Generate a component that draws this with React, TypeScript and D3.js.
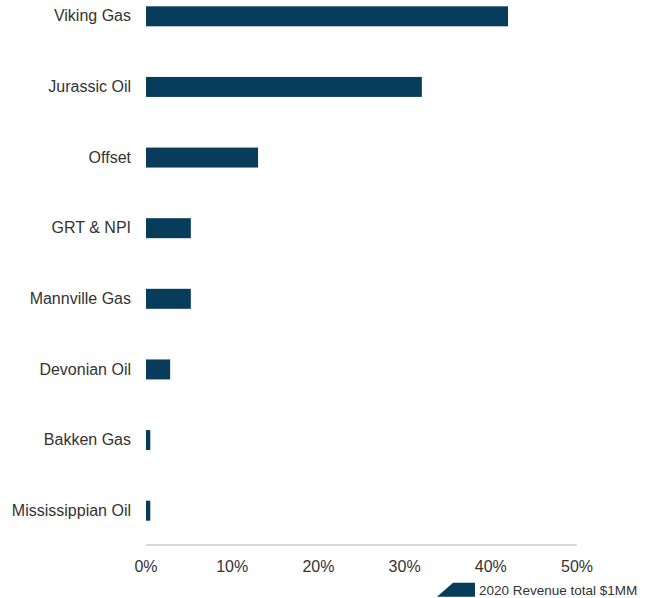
import React from "react";
import * as d3 from "d3";

const categories = [
  "Viking Gas",
  "Jurassic Oil",
  "Offset",
  "GRT & NPI",
  "Mannville Gas",
  "Devonian Oil",
  "Bakken Gas",
  "Mississippian Oil",
];
const values = [42, 32, 13, 5.2, 5.2, 2.8, 0.5, 0.5];
const xTicks = [0, 10, 20, 30, 40, 50];
const seriesName = "2020 Revenue total $1MM";

const W = 648;
const H = 598;
const BAR = "#073d5a";
const FONT = "'Liberation Sans', Arial, sans-serif";

export default function App() {
  const x = d3.scaleLinear().domain([0, 50]).range([146, 577]);
  const y = d3
    .scaleBand<string>()
    .domain(categories)
    .range([-19, 546])
    .paddingInner(0.717)
    .paddingOuter(0.3585);
  const axisY = 545;
  const bw = y.bandwidth();

  return (
    <svg
      width={W}
      height={H}
      style={{ position: "absolute", left: 0, top: 0, background: "#fff" }}
      fontFamily={FONT}
    >
      <rect x={0} y={0} width={W} height={H} fill="#fff" />
      {categories.map((c, i) => (
        <g key={c}>
          <rect
            x={x(0)}
            y={y(c)!}
            width={x(values[i]) - x(0)}
            height={bw}
            fill={BAR}
          />
          <text
            x={x(0) - 15}
            y={y(c)! + bw / 2}
            dy="0.32em"
            textAnchor="end"
            fontSize={16}
            fill="#333"
          >
            {c}
          </text>
        </g>
      ))}
      <line
        x1={x(0)}
        x2={x(50)}
        y1={axisY}
        y2={axisY}
        stroke="#d9d9d9"
        strokeWidth={2}
      />
      {xTicks.map((t) => (
        <text
          key={t}
          x={x(t)}
          y={572}
          textAnchor="middle"
          fontSize={16}
          fill="#333"
        >
          {t + "%"}
        </text>
      ))}
      <g>
        <polygon points="437,596.7 453,582.7 475,582.7 475,596.7" fill={BAR} />
        <text x={479} y={594.5} fontSize={13.5} fill="#333">
          {seriesName}
        </text>
      </g>
    </svg>
  );
}
